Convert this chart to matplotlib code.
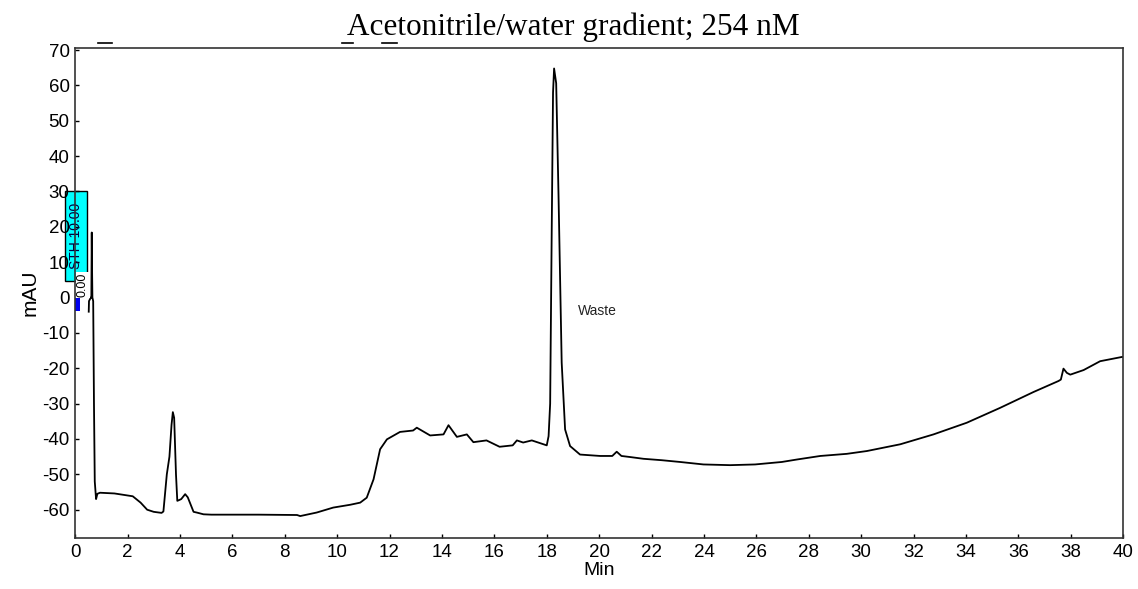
import numpy as np
import matplotlib
matplotlib.use('Agg')
import matplotlib.pyplot as plt
from matplotlib.patches import Rectangle
from matplotlib.lines import Line2D

plt.rcParams['font.family'] = ['Liberation Sans', 'DejaVu Sans']
plt.rcParams['axes.unicode_minus'] = False

# chromatogram trace (time in min, absorbance in mAU)
time_min = [0.52, 0.53, 0.60, 0.62, 0.635, 0.645, 0.66, 0.69, 0.72, 0.75, 0.80,
            0.85, 0.95, 1.5, 2.2, 2.5, 2.75, 3.0, 3.3, 3.37, 3.5, 3.6, 3.68, 3.73,
            3.78, 3.85, 3.9, 4.05, 4.2, 4.3, 4.52, 4.64, 4.9, 5.2, 6.0, 7.0, 8.47,
            8.59, 9.22, 9.85, 10.5, 10.88, 11.13, 11.39, 11.64, 11.9, 12.4, 12.9,
            13.04, 13.55, 14.06, 14.25, 14.57, 14.95, 15.2, 15.7, 16.2, 16.7, 16.86,
            17.1, 17.43, 18.0, 18.07, 18.13, 18.19, 18.24, 18.28, 18.36, 18.45,
            18.57, 18.7, 18.89, 19.27, 20.04, 20.5, 20.67, 20.85, 21.18, 21.69,
            22.39, 23.09, 23.98, 25.0, 25.95, 26.97, 27.55, 28.44, 29.45, 30.22,
            31.49, 32.76, 34.03, 35.3, 36.58, 37.53, 37.62, 37.72, 37.85, 37.98,
            38.49, 39.12, 39.95, 40.0]
signal_mau = [-4.0, -1.0, 0.0, 0.0, 18.4, 9.3, 0.0, -1.0, -30.0, -52.0, -57.0,
              -55.5, -55.2, -55.4, -56.2, -58.0, -60.0, -60.6, -60.9, -60.5, -50.0, -45.0, -36.0, -32.4,
              -34.0, -50.0, -57.5, -57.0, -55.6, -56.5, -60.6, -60.8, -61.3, -61.4, -61.4, -61.4, -61.5,
              -61.8, -60.8, -59.4, -58.6, -58.0, -56.6, -51.4, -42.9, -40.1, -38.0, -37.6,
              -36.8, -39.0, -38.7, -36.1, -39.4, -38.7, -40.9, -40.4, -42.2, -41.8, -40.4,
              -41.0, -40.4, -41.8, -39.2, -30.0, 19.2, 58.0, 64.8, 60.6, 28.6,
              -18.4, -37.3, -42.0, -44.4, -44.8, -44.8, -43.6, -44.8, -45.1, -45.6,
              -46.0, -46.5, -47.2, -47.4, -47.2, -46.5, -45.8, -44.8, -44.2, -43.4,
              -41.5, -38.7, -35.4, -31.2, -26.7, -23.6, -23.2, -20.1, -21.3, -21.8,
              -20.5, -18.0, -16.8, -16.8]

x_ticks = list(range(0, 41, 2))
y_ticks = list(range(-60, 71, 10))

fig = plt.figure(figsize=(11.38, 5.89), dpi=100)
ax = fig.add_axes([0.066, 0.0866, 0.921, 0.832])

ax.plot(time_min, signal_mau, color='black', lw=1.3)

ax.set_xlim(0, 40)
ax.set_ylim(-68, 70.6)
ax.set_xticks(x_ticks)
ax.set_yticks(y_ticks)
ax.tick_params(direction='in', length=3, width=1, labelsize=13.5, pad=4)
for s in ax.spines.values():
    s.set_linewidth(1.2)
    s.set_color('#333333')
ax.set_xlabel('Min', fontsize=14, labelpad=1)
ax.set_ylabel('mAU', fontsize=15, labelpad=2)

# event marker box
ax.add_patch(Rectangle((-0.38, 4.8), 0.84, 25.2, facecolor='#00ffff',
                       edgecolor='black', lw=1, clip_on=False, zorder=1))
ax.text(0.04, 17.4, 'STH 10.00', rotation=90, ha='center', va='center',
        fontsize=10, color='#000040', clip_on=False, zorder=2)
ax.text(0.3, 0.2, '0.00', rotation=90, ha='center', va='bottom',
        fontsize=9, color='black', clip_on=False, zorder=2,
        bbox=dict(facecolor='white', edgecolor='none', pad=0.5))
ax.add_patch(Rectangle((0.0, -3.8), 0.2, 3.8, facecolor='#0000ee',
                       edgecolor='none', clip_on=False, zorder=2))

ax.text(19.2, -3.7, 'Waste', fontsize=10, ha='left', va='center', color='#222222')

fig.text(0.504, 0.9406, 'Acetonitrile/water gradient; 254 nM', ha='center', va='baseline',
         fontsize=22.5, family='Liberation Serif')

# small stray dashes above the frame
W, H = 1138, 589
for x0, x1 in [(98, 112), (342, 353), (382, 397)]:
    fig.add_artist(Line2D([x0 / W, x1 / W], [1 - 43 / H, 1 - 43 / H],
                          color='black', lw=1.2))

fig.savefig('out.png', dpi=100)
